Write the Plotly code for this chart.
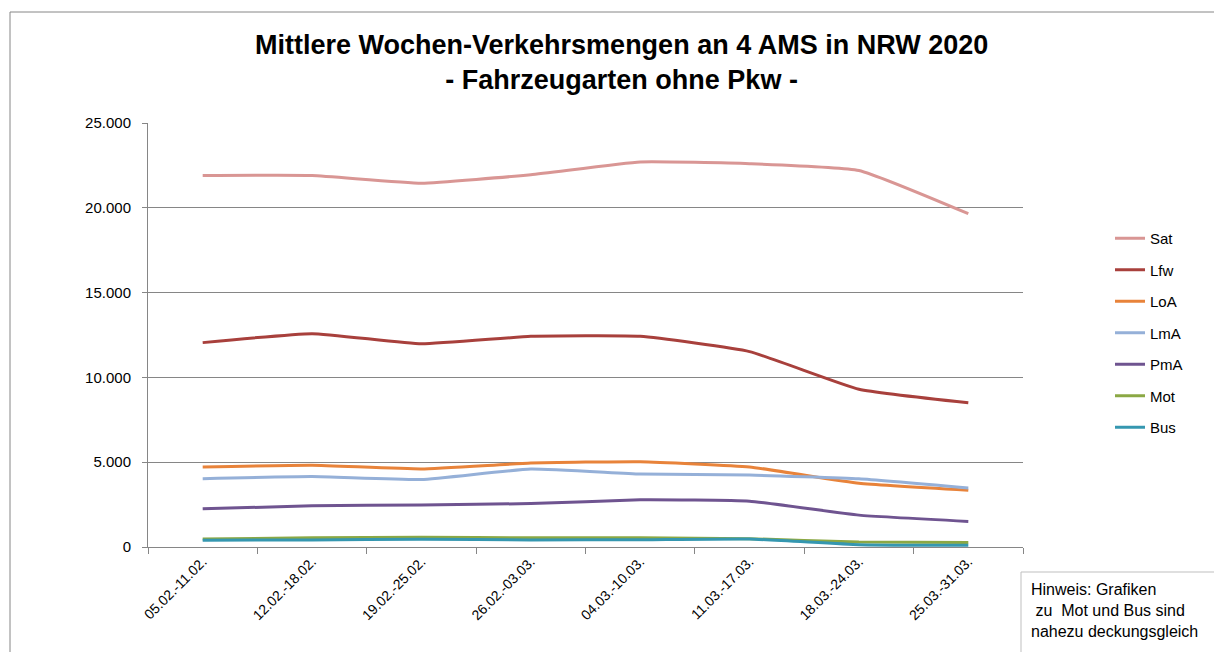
import plotly.graph_objects as go

categories = ["05.02.-11.02.", "12.02.-18.02.", "19.02.-25.02.", "26.02.-03.03.",
              "04.03.-10.03.", "11.03.-17.03.", "18.03.-24.03.", "25.03.-31.03."]
sat = [21900, 21900, 21450, 21950, 22700, 22600, 22200, 19650]
lfw = [12050, 12580, 11980, 12420, 12420, 11520, 9300, 8500]
loa = [4720, 4820, 4600, 4950, 5030, 4720, 3760, 3350]
lma = [4030, 4150, 3980, 4600, 4300, 4240, 4020, 3480]
pma = [2250, 2430, 2480, 2560, 2780, 2700, 1880, 1510]
mot = [470, 540, 580, 540, 540, 490, 290, 260]
bus = [400, 420, 460, 420, 430, 470, 140, 100]

series = [
    ("Sat", sat, "#D99694"),
    ("Lfw", lfw, "#A8403C"),
    ("LoA", loa, "#E8833A"),
    ("LmA", lma, "#95B0D8"),
    ("PmA", pma, "#6F5490"),
    ("Mot", mot, "#8BA844"),
    ("Bus", bus, "#3597B0"),
]

fig = go.Figure()
for name, vals, col in series:
    fig.add_trace(go.Scatter(x=categories, y=vals, name=name, mode="lines", legendgroup=name,
                             line=dict(color=col, width=3, shape="spline", smoothing=0.4)))

FONT = "Liberation Sans"
OFF = 8  # page body margin
# desired screen coordinates of plot area
SL, SR, ST, SB = 148, 1023, 123, 547
W, H = 1222 - OFF, 652 - OFF
L, R, T, B = SL - OFF, SR - OFF, ST - OFF, SB - OFF
pw, ph = R - L, B - T

def px(x):
    return (x - SL) / pw

def py(y):
    return (SB - y) / ph

fig.update_layout(
    width=W, height=H,
    margin=dict(l=L, r=W - R, t=T, b=H - B),
    paper_bgcolor="white", plot_bgcolor="white",
    font=dict(family=FONT, size=14, color="#000000"),
    showlegend=True,
    legend=dict(x=px(1110), y=py(222), xanchor="left", yanchor="top",
                font=dict(size=15), tracegroupgap=9,
                bgcolor="rgba(0,0,0,0)"),
    xaxis=dict(type="category", showgrid=False, showline=True, linecolor="#868686",
               linewidth=1, ticks="outside", tickcolor="#868686", ticklen=6,
               tickson="boundaries", tickangle=-45, tickfont=dict(size=14),
               range=[-0.5, 7.5], zeroline=False),
    yaxis=dict(range=[0, 25000], dtick=5000, showgrid=True, gridcolor="#868686",
               gridwidth=1, showline=True, linecolor="#868686", linewidth=1,
               ticks="outside", tickcolor="#868686", ticklen=5, ticklabelstandoff=8,
               tickformat=",d", separatethousands=True, zeroline=False,
               tickfont=dict(size=15)),
    separators=",.",
)

# title
fig.add_annotation(text="<b>Mittlere Wochen-Verkehrsmengen an 4 AMS in NRW 2020</b><br><b>- Fahrzeugarten ohne Pkw -</b>",
                   xref="paper", yref="paper", x=px(621), y=py(62), xanchor="center", yanchor="middle",
                   showarrow=False, font=dict(size=27, family=FONT), align="center")

# outer chart border
fig.add_shape(type="rect", xref="paper", yref="paper", x0=px(10), x1=px(1240), y0=py(680), y1=py(12),
              line=dict(color="#868686", width=1), fillcolor="rgba(0,0,0,0)", layer="below")

# note box
fig.add_shape(type="rect", xref="paper", yref="paper", x0=px(1021), x1=px(1240), y0=py(680), y1=py(572),
              line=dict(color="#BFBFBF", width=1), fillcolor="white")
fig.add_annotation(text="Hinweis: Grafiken<br> zu  Mot und Bus sind<br>nahezu deckungsgleich",
                   xref="paper", yref="paper", x=px(1029), y=py(579), xanchor="left", yanchor="top",
                   showarrow=False, align="left", font=dict(size=16, family=FONT))

fig.write_html("out.html")
